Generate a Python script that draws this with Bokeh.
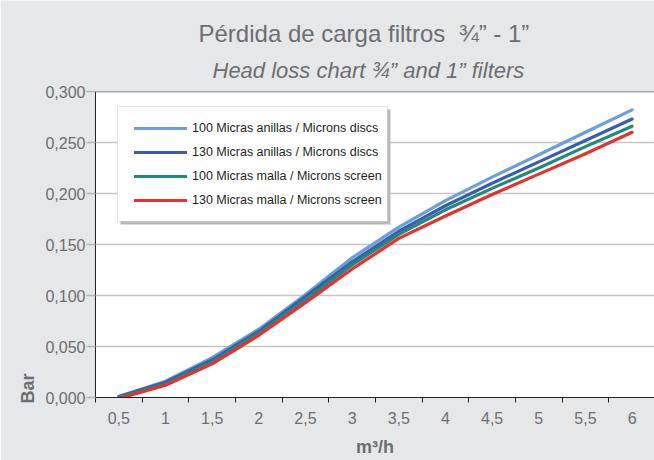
from bokeh.plotting import figure
from bokeh.models import (FixedTicker, CustomJSTickFormatter, Legend, LegendItem,
                          BoxAnnotation, Span, Range1d, Title)
from bokeh.embed import file_html
from bokeh.resources import INLINE

# ---- data ----
flow = [0.5, 1.0, 1.5, 2.0, 2.5, 3.0, 3.5, 4.0, 4.5, 5.0, 5.5, 6.0]
s100_discs = [0.001, 0.016, 0.039, 0.067, 0.101, 0.137, 0.167, 0.193, 0.216, 0.238, 0.260, 0.282]
s130_discs = [0.001, 0.015, 0.037, 0.065, 0.099, 0.133, 0.163, 0.188, 0.210, 0.231, 0.252, 0.273]
s100_screen = [0.000, 0.013, 0.035, 0.063, 0.096, 0.130, 0.160, 0.184, 0.205, 0.225, 0.246, 0.266]
s130_screen = [-0.001, 0.012, 0.033, 0.061, 0.093, 0.126, 0.156, 0.178, 0.199, 0.219, 0.239, 0.260]
y_ticks = [0.0, 0.05, 0.10, 0.15, 0.20, 0.25, 0.30]
series_names = ["100 Micras anillas / Microns discs",
                "130 Micras anillas / Microns discs",
                "100 Micras malla / Microns screen",
                "130 Micras malla / Microns screen"]
series_colors = ["#6b9fd9", "#3a5dae", "#1e8a80", "#e8312f"]
title_text = "Pérdida de carga filtros \u00a0¾” - 1”"
subtitle_text = "Head loss chart ¾” and 1” filters"
x_label = "m³/h"
y_label = "Bar"

BG = "#e6e7e9"
TXT = "#6d6e71"
FONT = "Liberation Sans"

p = figure(width=654, height=460, output_backend="svg", toolbar_location=None,
           x_range=Range1d(0.25, 6.24), y_range=Range1d(0.0, 0.3),
           min_border_left=95, min_border_right=0, min_border_top=91, min_border_bottom=63)
p.border_fill_color = BG
p.background_fill_color = "white"
p.outline_line_color = None

# axes
xa = p.xaxis[0]
xa.ticker = FixedTicker(ticks=flow, minor_ticks=[v - 0.25 for v in flow] + [flow[-1] + 0.25])
xa.formatter = CustomJSTickFormatter(code="return String(tick).replace('.', ',');")
xa.major_tick_out = 0
xa.major_tick_in = 0
xa.minor_tick_out = 5
xa.minor_tick_in = 0
xa.minor_tick_line_color = "#222222"
xa.axis_line_color = "#222222"
xa.major_label_text_font = FONT
xa.major_label_text_font_size = "16px"
xa.major_label_text_color = TXT
xa.major_label_standoff = 9
xa.axis_label = x_label
xa.axis_label_text_font = FONT
xa.axis_label_text_font_style = "bold"
xa.axis_label_text_font_size = "18px"
xa.axis_label_text_color = TXT
xa.axis_label_standoff = 10

ya = p.yaxis[0]
ya.ticker = FixedTicker(ticks=y_ticks, minor_ticks=[])
ya.formatter = CustomJSTickFormatter(code="return tick.toFixed(3).replace('.', ',');")
ya.major_tick_out = 9
ya.major_tick_in = 0
ya.major_tick_line_color = "#b5b5b5"
ya.major_tick_line_width = 1.5
ya.axis_line_color = "#222222"
ya.major_label_text_font = FONT
ya.major_label_text_font_size = "16px"
ya.major_label_text_color = TXT
ya.major_label_standoff = 1

p.xgrid.visible = False
p.ygrid.ticker = FixedTicker(ticks=y_ticks)
p.ygrid.grid_line_color = "#c6c6c6"
p.ygrid.grid_line_width = 1.5

p.add_layout(Span(location=y_ticks[-1], dimension="width", line_color="#555555", line_width=1.5))

# lines
renderers = []
for vals, col in zip([s100_discs, s130_discs, s100_screen, s130_screen], series_colors):
    r = p.line(flow, vals, line_color=col, line_width=3.2, line_join="round", line_cap="round")
    renderers.append(r)

# legend box + shadow
p.add_layout(BoxAnnotation(left=25, right=295, top=288, bottom=173,
                           left_units="screen", right_units="screen",
                           top_units="screen", bottom_units="screen",
                           fill_color="#b9b9b9", fill_alpha=1, line_color=None))
p.add_layout(BoxAnnotation(left=22, right=292, top=291, bottom=176,
                           left_units="screen", right_units="screen",
                           top_units="screen", bottom_units="screen",
                           fill_color="white", fill_alpha=1, line_color="#a0a0a0", line_width=1))

legend = Legend(items=[LegendItem(label=n, renderers=[r]) for n, r in zip(series_names, renderers)],
                location=(39, 187), orientation="vertical",
                background_fill_alpha=0, border_line_alpha=0, padding=0, margin=0,
                glyph_width=53, glyph_height=20, label_height=20, spacing=4, label_standoff=5,
                label_text_font=FONT, label_text_font_size="12.5px",
                label_text_color="#231f20")
p.add_layout(legend, "center")

# titles (subtitle first: closest to frame)
p.add_layout(Title(text=subtitle_text, align="left", offset=117, text_font=FONT,
                   text_font_style="italic", text_font_size="22px", text_color=TXT,
                   standoff=18), "above")
p.add_layout(Title(text=title_text, align="left", offset=103, text_font=FONT,
                   text_font_style="normal", text_font_size="24px", text_color=TXT,
                   standoff=0), "above")
p.add_layout(Title(text=y_label, align="left", offset=-6, text_font=FONT,
                   text_font_style="bold", text_font_size="18px", text_color=TXT,
                   standoff=9), "left")

open("out.html", "w").write(file_html(p, INLINE))
